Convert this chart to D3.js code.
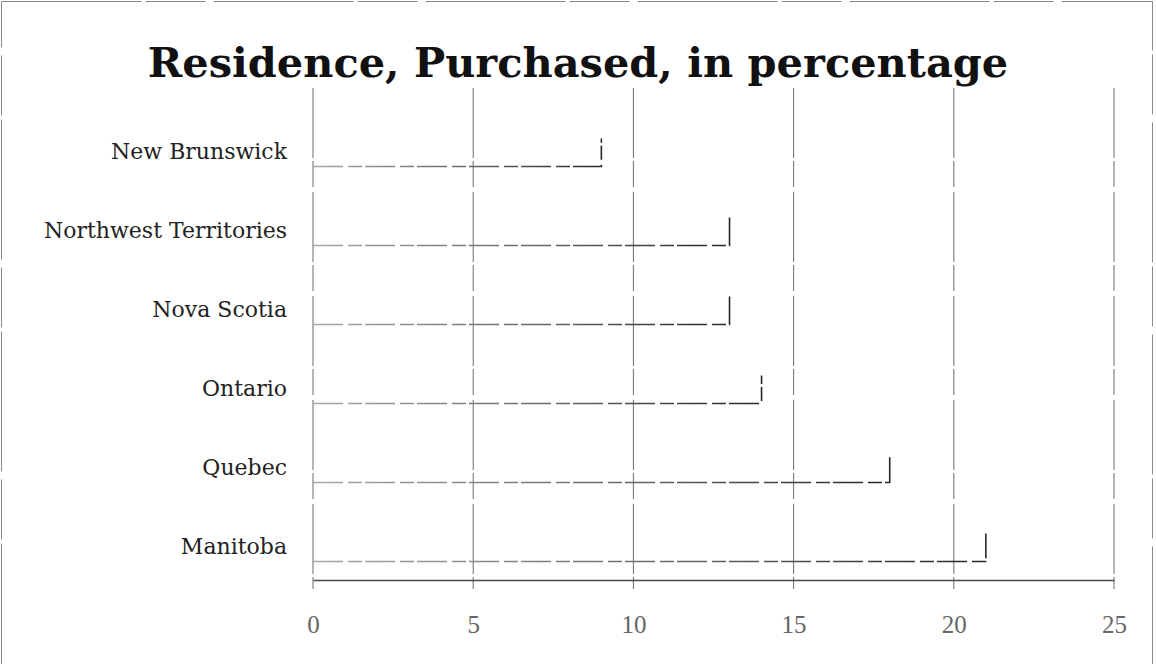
<!DOCTYPE html>
<html>
<head>
<meta charset="utf-8">
<script src="https://cdn.jsdelivr.net/npm/d3@7"></script>
<style>
  body { margin: 0; background: #fff; }
  svg { display: block; }
</style>
</head>
<body>
<svg id="chart" width="1156" height="664"></svg>
<script>
// data
var categories = ["New Brunswick", "Northwest Territories", "Nova Scotia", "Ontario", "Quebec", "Manitoba"];
var values = [9, 13, 13, 14, 18, 21];
var tickValues = [0, 5, 10, 15, 20, 25];
var chartTitle = "Residence, Purchased, in percentage";

var width = 1156, height = 664;
var plotLeft = 313, plotRight = 1114, plotTop = 88, plotBottom = 580;

var svg = d3.select("#chart");

// frame around the whole chart (faded in the scan)
svg.append("rect")
  .attr("x", 1.5).attr("y", 1.5)
  .attr("width", width - 5).attr("height", height + 10)
  .attr("fill", "none")
  .attr("stroke", "#8a8a8a")
  .attr("stroke-width", 1)
  .attr("stroke-dasharray", "140,4,60,8");

var x = d3.scaleLinear().domain([0, 25]).range([plotLeft, plotRight]);
var y = d3.scaleBand().domain(categories).range([112, 586]).paddingInner(0.62).paddingOuter(0.31);

// gradient so the left part of the bars looks washed out like the scan
var defs = svg.append("defs");
var grad = defs.append("linearGradient").attr("id", "fade").attr("x1", 0).attr("x2", 1).attr("y1", 0).attr("y2", 0);
grad.append("stop").attr("offset", "0%").attr("stop-color", "#a8a8a8");
grad.append("stop").attr("offset", "55%").attr("stop-color", "#666");
grad.append("stop").attr("offset", "100%").attr("stop-color", "#262626");

// title
svg.append("text")
  .attr("x", 578).attr("y", 77)
  .attr("text-anchor", "middle")
  .attr("font-family", "'DejaVu Serif', serif")
  .attr("font-weight", "bold")
  .attr("font-size", 41.5)
  .attr("fill", "#111")
  .text(chartTitle);

// vertical gridlines
svg.append("g").selectAll("line")
  .data(tickValues)
  .enter().append("line")
  .attr("x1", function(d) { return x(d); })
  .attr("x2", function(d) { return x(d); })
  .attr("y1", plotTop)
  .attr("y2", plotBottom + 9)
  .attr("stroke", "#6a6a6a")
  .attr("stroke-width", 1)
  .attr("stroke-dasharray", "70,3,26,5");

// bars: only bottom and right edges survive in the reference
svg.append("g").selectAll("path")
  .data(values)
  .enter().append("path")
  .attr("d", function(d, i) {
    var y0 = y(categories[i]) + 2, y1 = y(categories[i]) + y.bandwidth();
    return "M" + x(0) + "," + y1 + "H" + x(d) + "V" + y0;
  })
  .attr("fill", "none")
  .attr("stroke", "url(#fade)")
  .attr("stroke-width", 1.6)
  .attr("stroke-dasharray", "30,5,14,3");

// x axis
var xAxis = svg.append("g")
  .attr("transform", "translate(0," + plotBottom + ")")
  .call(d3.axisBottom(x).tickValues(tickValues).tickSize(0).tickSizeOuter(0).tickPadding(35));
xAxis.select(".domain").attr("stroke", "#4a4a4a").attr("stroke-width", 1.3);
xAxis.selectAll("text")
  .attr("font-family", "'Liberation Serif', serif")
  .attr("font-size", 25)
  .attr("fill", "#666");

// y axis labels
var yAxis = svg.append("g")
  .attr("transform", "translate(" + plotLeft + ",0)")
  .call(d3.axisLeft(y).tickSize(0).tickPadding(26));
yAxis.select(".domain").remove();
yAxis.selectAll("text")
  .attr("font-family", "'DejaVu Serif', serif")
  .attr("font-size", 22)
  .attr("fill", "#222");
</script>
</body>
</html>
